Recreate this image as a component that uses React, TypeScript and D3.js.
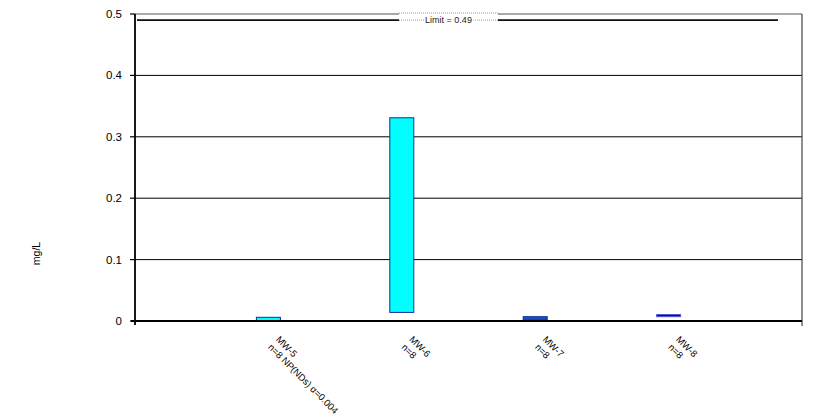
import React from "react";
import * as d3 from "d3";

const categories = ["MW-5", "MW-6", "MW-7", "MW-8"];
const subLabels = ["n=8 NP(NDs) α=0.004", "n=8", "n=8", "n=8"];
const lowerValues = [0, 0.014, 0.002, 0.007];
const upperValues = [0.006, 0.331, 0.007, 0.0105];
const barFills = ["#00FFFF", "#00FFFF", "#1C50C8", "#0000A0"];
const barStrokes = ["#1A2A9A", "#1A2A9A", "#0A2A90", "#5A5AD8"];
const yTicks = [0, 0.1, 0.2, 0.3, 0.4, 0.5];
const limitValue = 0.49;
const limitLabel = "Limit = 0.49";
const yTitle = "mg/L";

const W = 813;
const H = 419;
const left = 135;
const right = 802;
const top = 14;
const bottom = 321;

export default function App() {
  const x = d3.scalePoint<string>().domain(categories).range([left, right]).padding(1);
  const y = d3.scaleLinear().domain([0, 0.5]).range([bottom, top]);
  const barW = 24;
  const font = "Arial, 'Liberation Sans', sans-serif";
  const ly = y(limitValue);
  const labelX0 = 399;
  const labelX1 = 498;

  return (
    <svg
      width={W}
      height={H}
      style={{ position: "absolute", left: 0, top: 0, background: "#fff" }}
      fontFamily={font}
    >
      <rect x={0} y={0} width={W} height={H} fill="#fff" />
      {/* gridlines */}
      {yTicks.filter((t) => t > 0 && t < 0.5).map((t) => (
        <line key={t} x1={left} x2={right} y1={y(t)} y2={y(t)} stroke="#000" strokeWidth={1} />
      ))}
      {/* plot border top/right */}
      <line x1={left} x2={right} y1={y(0.5)} y2={y(0.5)} stroke="#555" strokeWidth={1.2} />
      <line x1={right} x2={right} y1={top} y2={bottom + 5} stroke="#444" strokeWidth={1.2} />

      {/* limit line */}
      <line x1={left + 2} x2={labelX0} y1={ly} y2={ly} stroke="#111" strokeWidth={1.6} />
      <line x1={labelX1} x2={778} y1={ly} y2={ly} stroke="#111" strokeWidth={1.6} />
      <rect x={labelX0} y={top - 1} width={labelX1 - labelX0} height={12} fill="#fff" />
      <line x1={labelX0} x2={labelX1} y1={top - 1} y2={top - 1} stroke="#999" strokeWidth={1} strokeDasharray="1,1" />
      <line x1={labelX0} x2={labelX1} y1={ly} y2={ly} stroke="#999" strokeWidth={1} strokeDasharray="1,1" />
      <text
        x={(labelX0 + labelX1) / 2}
        y={ly + 3}
        fontSize={9}
        textAnchor="middle"
        fill="#222"
        stroke="#fff"
        strokeWidth={3}
        paintOrder="stroke"
      >
        {limitLabel}
      </text>

      {/* bars */}
      {categories.map((c, i) => {
        const cx = x(c)!;
        const y0 = y(upperValues[i]);
        const y1 = y(lowerValues[i]);
        return (
          <rect
            key={c}
            x={cx - barW / 2}
            y={y0}
            width={barW}
            height={Math.max(1, y1 - y0)}
            fill={barFills[i]}
            stroke={barStrokes[i]}
            strokeWidth={1}
          />
        );
      })}

      {/* axes */}
      <line x1={left} x2={left} y1={top} y2={bottom + 4} stroke="#000" strokeWidth={1.8} />
      <line x1={left - 4} x2={right} y1={bottom} y2={bottom} stroke="#000" strokeWidth={1.8} />
      {yTicks.map((t) => (
        <g key={t}>
          <line x1={left - 5} x2={left} y1={y(t)} y2={y(t)} stroke="#000" strokeWidth={1.2} />
          <text x={left - 13} y={y(t) + 4} fontSize={11.5} textAnchor="end" fill="#000">
            {d3.format("")(t)}
          </text>
        </g>
      ))}
      <text
        transform={`translate(40, ${(top + bottom) / 2 + 86}) rotate(-90)`}
        fontSize={10.5}
        textAnchor="middle"
        fill="#000"
      >
        {yTitle}
      </text>

      {/* x labels */}
      {categories.map((c, i) => {
        const cx = x(c)!;
        return (
          <g key={c} transform={`translate(${cx + 7}, 340) rotate(45)`}>
            <text x={0} y={0} fontSize={9.5} fill="#000">
              {c}
            </text>
            <text x={0} y={11} fontSize={9.5} fill="#000">
              {subLabels[i]}
            </text>
          </g>
        );
      })}
    </svg>
  );
}
